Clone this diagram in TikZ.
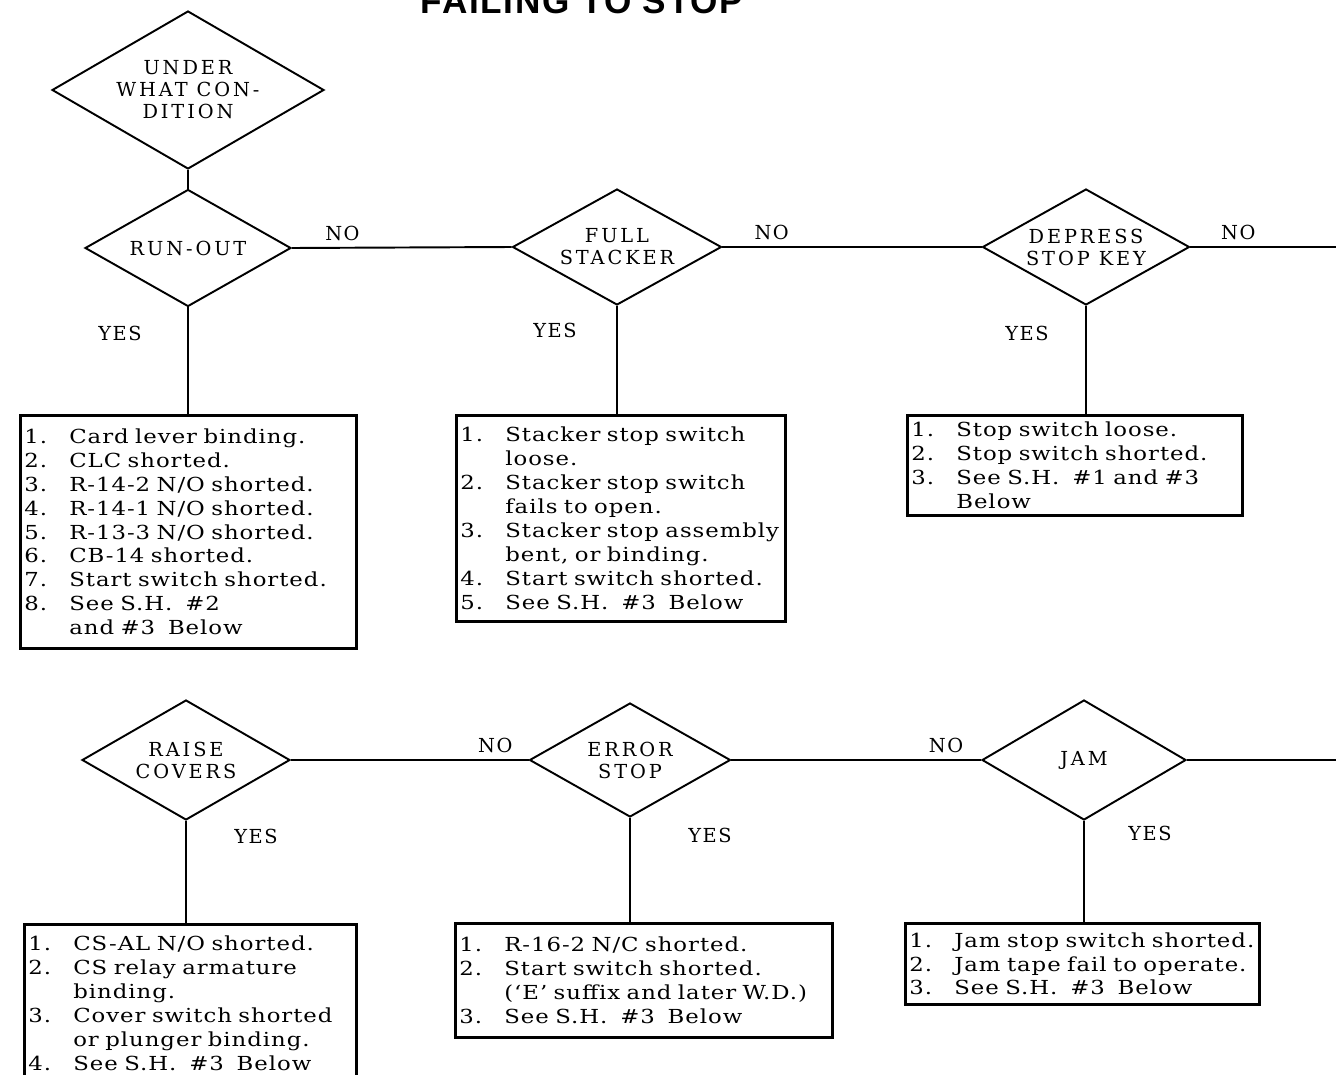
\documentclass[tikz,border=0pt]{standalone}
\usepackage{fontspec}
\setmainfont{DejaVu Serif}
\newfontfamily\titlefont{Liberation Sans}
\usetikzlibrary{shapes.geometric}

\newlength{\numw}
\setlength{\numw}{0.9cm}
\newcommand{\itm}[2]{\makebox[\numw][l]{#1}#2}
\newcommand{\cont}[1]{\hspace*{\numw}#1}

\begin{document}
\begin{tikzpicture}[x=0.02cm,y=-0.02cm,line width=1.1pt,
	test/.style={diamond,draw,inner sep=0pt,aspect=1.78,align=center,
		font=\fontsize{11}{12.5}\selectfont\addfontfeature{LetterSpace=15}},
	causes/.style={draw,line width=1.5pt,anchor=north west,align=left,
		inner xsep=0.08cm,inner ysep=0pt,
		font=\fontsize{11}{13.6}\selectfont\addfontfeature{FakeStretch=1.18,LetterSpace=5}},
	tag/.style={font=\fontsize{11}{13}\selectfont\addfontfeature{LetterSpace=8}}]

	\clip (0,0) rectangle (1336,1075);
	\useasboundingbox (0,0) rectangle (1336,1075);

	% title, cut by the top edge
	\node[font=\titlefont\bfseries\fontsize{20}{20}\selectfont\addfontfeature{LetterSpace=5},
		anchor=base] (title) at (582,13) {FAILING TO STOP};

	% first row of tests
	\node[test,minimum width=5.44cm,minimum height=3.16cm] (cond) at (188,90)
		{UNDER\\WHAT CON-\\DITION};
	\node[test,minimum width=4.12cm,minimum height=2.34cm] (runout) at (188,248) {RUN-OUT};
	\node[test,minimum width=4.18cm,minimum height=2.32cm] (full) at (617,247) {FULL\\STACKER};
	\node[test,minimum width=4.14cm,minimum height=2.32cm] (depress) at (1086,247) {DEPRESS\\STOP KEY};
	\coordinate (exit1) at (1340,247);

	% second row of tests
	\node[test,minimum width=4.16cm,minimum height=2.40cm] (raise) at (186,760) {RAISE\\COVERS};
	\node[test,minimum width=4.02cm,minimum height=2.28cm] (error) at (630,760) {ERROR\\STOP};
	\node[test,minimum width=4.08cm,minimum height=2.40cm] (jam) at (1084,760) {JAM};
	\coordinate (exit2) at (1340,760);

	% causes
	\node[causes,text width=6.56cm,minimum height=4.66cm] (c1) at (19,414) {%
		\itm{1.}{Card lever binding.}\\
		\itm{2.}{CLC shorted.}\\
		\itm{3.}{R-14-2 N/O shorted.}\\
		\itm{4.}{R-14-1 N/O shorted.}\\
		\itm{5.}{R-13-3 N/O shorted.}\\
		\itm{6.}{CB-14 shorted.}\\
		\itm{7.}{Start switch shorted.}\\
		\itm{8.}{See S.H.\ \ \#2}\\
		\cont{and \#3\ \ Below}};
	\node[causes,text width=6.42cm,minimum height=4.12cm] (c2) at (455,414) {%
		\itm{1.}{Stacker stop switch}\\
		\cont{loose.}\\
		\itm{2.}{Stacker stop switch}\\
		\cont{fails to open.}\\
		\itm{3.}{Stacker stop assembly}\\
		\cont{bent, or binding.}\\
		\itm{4.}{Start switch shorted.}\\
		\itm{5.}{See S.H.\ \ \#3\ \ Below}};
	\node[causes,text width=6.54cm,minimum height=2.0cm] (c3) at (906,414) {%
		\itm{1.}{Stop switch loose.}\\
		\itm{2.}{Stop switch shorted.}\\
		\itm{3.}{See S.H.\ \ \#1 and \#3}\\
		\cont{Below}};
	\node[causes,text width=6.48cm,minimum height=3.16cm] (c4) at (23,923) {%
		\itm{1.}{CS-AL N/O shorted.}\\
		\itm{2.}{CS relay armature}\\
		\cont{binding.}\\
		\itm{3.}{Cover switch shorted}\\
		\cont{or plunger binding.}\\
		\itm{4.}{See S.H.\ \ \#3\ \ Below}};
	\node[causes,text width=7.38cm,minimum height=2.28cm] (c5) at (454,922) {%
		\itm{1.}{R-16-2 N/C shorted.}\\
		\itm{2.}{Start switch shorted.}\\
		\cont{(`E' suffix and later W.D.)}\\
		\itm{3.}{See S.H.\ \ \#3\ \ Below}};
	\node[causes,text width=6.92cm,minimum height=1.62cm] (c6) at (904,922) {%
		\itm{1.}{Jam stop switch shorted.}\\
		\itm{2.}{Jam tape fail to operate.}\\
		\itm{3.}{See S.H.\ \ \#3\ \ Below}};

	% NO branches
	\draw (cond.south) -- (runout.north);
	\draw (runout.east) -- node[tag,pos=0.23,above] {NO} (full.west);
	\draw (full.east) -- node[tag,pos=0.19,above] {NO} (depress.west);
	\draw (depress.east) -- node[tag,pos=0.32,above] {NO} (exit1);
	\draw (raise.east) -- node[tag,pos=0.86,above] {NO} (error.west);
	\draw (error.east) -- node[tag,pos=0.86,above] {NO} (jam.west);
	\draw (jam.east) -- (exit2);

	% YES branches
	\draw (runout.south) -- (runout.south |- c1.north);
	\draw (full.south) -- (full.south |- c2.north);
	\draw (depress.south) -- (depress.south |- c3.north);
	\draw (raise.south) -- (raise.south |- c4.north);
	\draw (error.south) -- (error.south |- c5.north);
	\draw (jam.south) -- (jam.south |- c6.north);

	\node[tag] (yes1) at (120,333) {YES};
	\node[tag] (yes2) at (555,330) {YES};
	\node[tag] (yes3) at (1027,333) {YES};
	\node[tag] (yes4) at (256,836) {YES};
	\node[tag] (yes5) at (710,835) {YES};
	\node[tag] (yes6) at (1150,833) {YES};

\end{tikzpicture}
\end{document}
